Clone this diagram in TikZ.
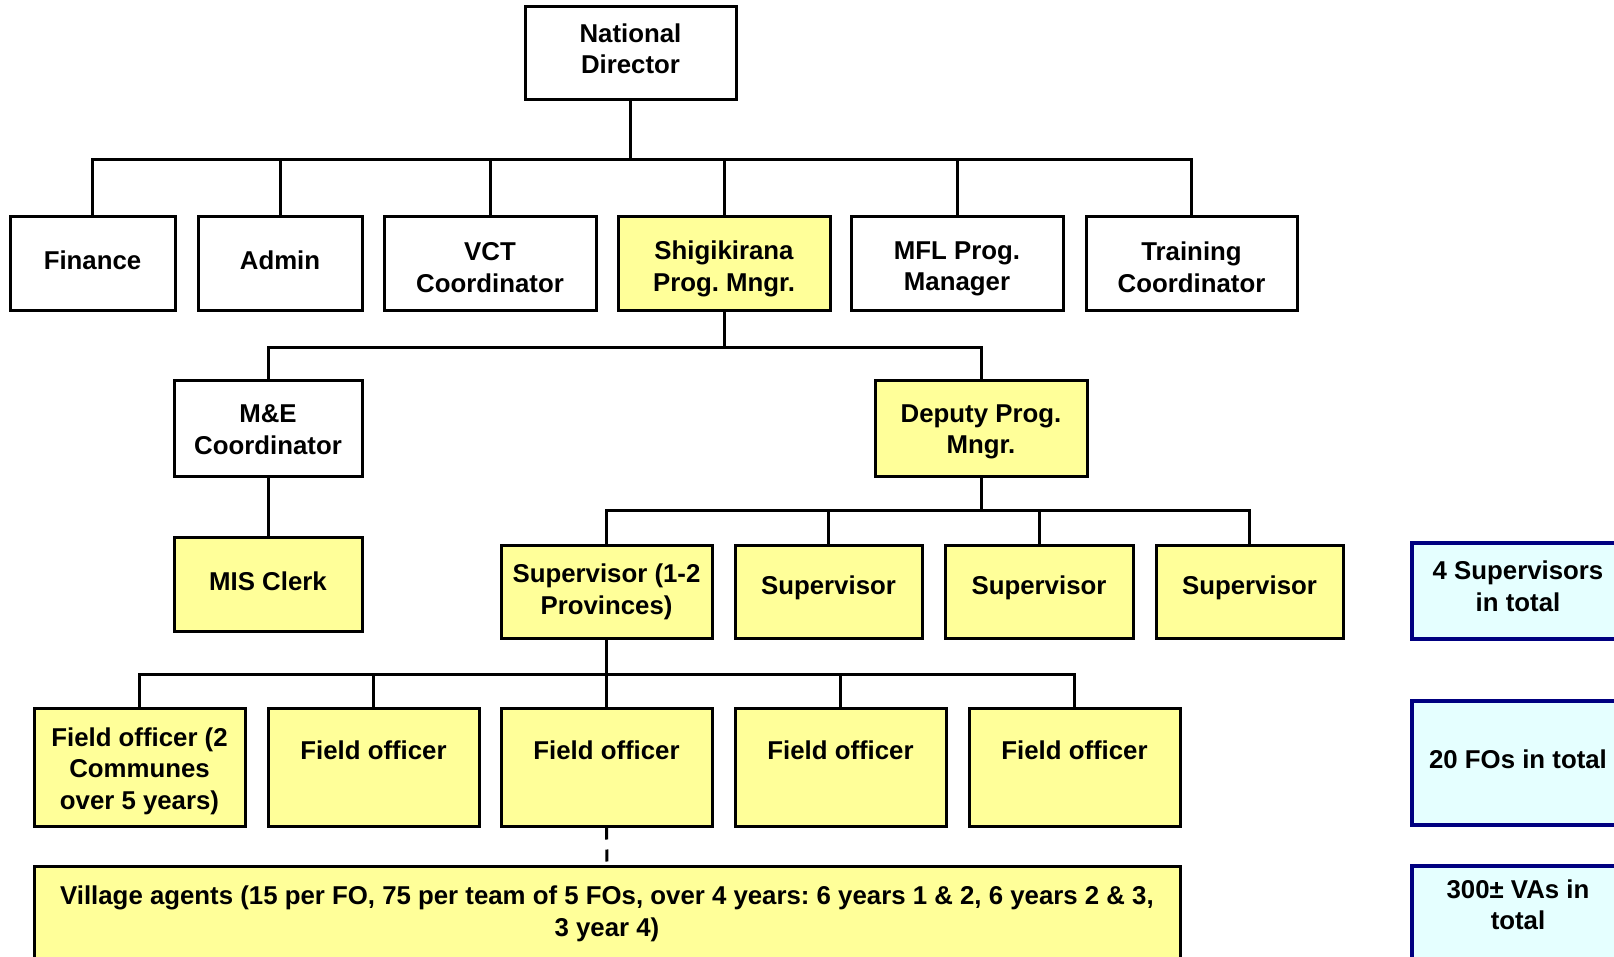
\documentclass[tikz,border=0pt]{standalone}
\usepackage{fontspec}
\setmainfont{Liberation Sans}
\frenchspacing
\definecolor{boxyellow}{RGB}{255,255,153}
\definecolor{boxcyan}{RGB}{229,255,255}
\definecolor{navyline}{RGB}{0,0,128}
\begin{document}
\begin{tikzpicture}[x=1pt,y=-1pt,
  box/.style={draw=black, line width=3pt, fill=white, inner sep=0pt},
  ybox/.style={box, fill=boxyellow},
  cbox/.style={draw=navyline, line width=4pt, fill=boxcyan, inner sep=0pt},
  txt/.style={align=center, inner sep=0pt, font=\bfseries\fontsize{25.8}{31.5}\selectfont},
  conn/.style={line width=3pt},
  dconn/.style={line width=3pt, dash pattern=on 12pt off 10pt}]
\clip (0,0) rectangle (1614,957);
\fill[white] (0,0) rectangle (1614,957);

% level 1
\node[box, minimum width=211, minimum height=93] (nd) at (630.5,53.5) {};
\node[txt] (ndt) at ([yshift=4.5pt]nd.center) {National\\Director};

% level 2
\node[box, minimum width=165, minimum height=94] (fin) at (92.5,264) {};
\node[box, minimum width=164, minimum height=94] (adm) at (280,264) {};
\node[box, minimum width=212, minimum height=94] (vct) at (490,264) {};
\node[ybox, minimum width=212, minimum height=94] (shg) at (724,264) {};
\node[box, minimum width=212, minimum height=94] (mfl) at (957,264) {};
\node[box, minimum width=211, minimum height=94] (trn) at (1191.5,264) {};
\node[txt] (fint) at ([yshift=4pt]fin.center) {Finance};
\node[txt] (admt) at ([yshift=4pt]adm.center) {Admin};
\node[txt] (vctt) at ([yshift=-3.5pt]vct.center) {VCT\\Coordinator};
\node[txt] (shgt) at ([yshift=-5pt]shg.center) {Shigikirana\\Prog. Mngr.};
\node[txt] (mflt) at ([yshift=-5pt]mfl.center) {MFL Prog.\\Manager};
\node[txt] (trnt) at ([yshift=-3.5pt]trn.center) {Training\\Coordinator};

% level 3
\node[box, minimum width=188, minimum height=95] (me) at (268,428.5) {};
\node[ybox, minimum width=212, minimum height=95] (dep) at (981,428.5) {};
\node[ybox, minimum width=188, minimum height=94] (mis) at (268,584) {};
\node[txt] (met) at ([yshift=-1pt]me.center) {M\&E\\Coordinator};
\node[txt] (dept) at ([yshift=-3.5pt]dep.center) {Deputy Prog.\\Mngr.};
\node[txt] (mist) at ([yshift=3pt]mis.center) {MIS Clerk};

% level 4
\node[ybox, minimum width=211, minimum height=93] (s1) at (606.5,591.5) {};
\node[ybox, minimum width=187, minimum height=93] (s2) at (828.5,591.5) {};
\node[ybox, minimum width=188, minimum height=93] (s3) at (1039,591.5) {};
\node[ybox, minimum width=187, minimum height=93] (s4) at (1249.5,591.5) {};
\node[txt] (s1t) at ([yshift=-0.5pt]s1.center) {Supervisor (1-2\\Provinces)};
\node[txt] (s2t) at ([yshift=3.5pt]s2.center) {Supervisor};
\node[txt] (s3t) at ([yshift=3.5pt]s3.center) {Supervisor};
\node[txt] (s4t) at ([yshift=3.5pt]s4.center) {Supervisor};

% level 5
\node[ybox, minimum width=211, minimum height=118] (f1) at (139.5,767) {};
\node[ybox, minimum width=211, minimum height=118] (f2) at (373.5,767) {};
\node[ybox, minimum width=211, minimum height=118] (f3) at (606.5,767) {};
\node[ybox, minimum width=211, minimum height=118] (f4) at (840.5,767) {};
\node[ybox, minimum width=211, minimum height=118] (f5) at (1074.5,767) {};
\node[txt] (f1t) at ([yshift=-4pt]f1.center) {Field officer (2\\Communes\\over 5 years)};
\node[txt] (f2t) at ([yshift=17pt]f2.center) {Field officer};
\node[txt] (f3t) at ([yshift=17pt]f3.center) {Field officer};
\node[txt] (f4t) at ([yshift=17pt]f4.center) {Field officer};
\node[txt] (f5t) at ([yshift=17pt]f5.center) {Field officer};

% village agents
\node[ybox, anchor=north, minimum width=1146, minimum height=130] (va) at (607,865) {};
\node[txt] (vat) at (607,914) {Village agents (15 per FO, 75 per team of 5 FOs, over 4 years: 6 years 1 \& 2, 6 years 2 \& 3,\\3 year 4)};

% side notes
\node[cbox, minimum width=212, minimum height=96] (c1) at (1518,591) {};
\node[cbox, minimum width=212, minimum height=124] (c2) at (1518,763) {};
\node[cbox, anchor=north, minimum width=212, minimum height=130] (c3) at (1518,864) {};
\node[txt] (c1t) at ([yshift=4.5pt]c1.center) {4 Supervisors\\in total};
\node[txt] (c2t) at ([yshift=4pt]c2.center) {20 FOs in total};
\node[txt] (c3t) at (1518,905) {300\textpm{} VAs in\\total};

% connectors
\foreach \c in {fin,adm,vct,shg,mfl,trn}
  \draw[conn] (nd.south) -- ++(0,58) -| (\c.north);
\foreach \c in {me,dep}
  \draw[conn] (shg.south) -- ++(0,35) -| (\c.north);
\draw[conn] (me.south) -- (mis.north);
\foreach \c in {s1,s2,s3,s4}
  \draw[conn] (dep.south) -- ++(0,33) -| (\c.north);
\foreach \c in {f1,f2,f3,f4,f5}
  \draw[conn] (s1.south) -- ++(0,35) -| (\c.north);
\draw[dconn] (f3.south) -- (va.north);
\end{tikzpicture}
\end{document}
